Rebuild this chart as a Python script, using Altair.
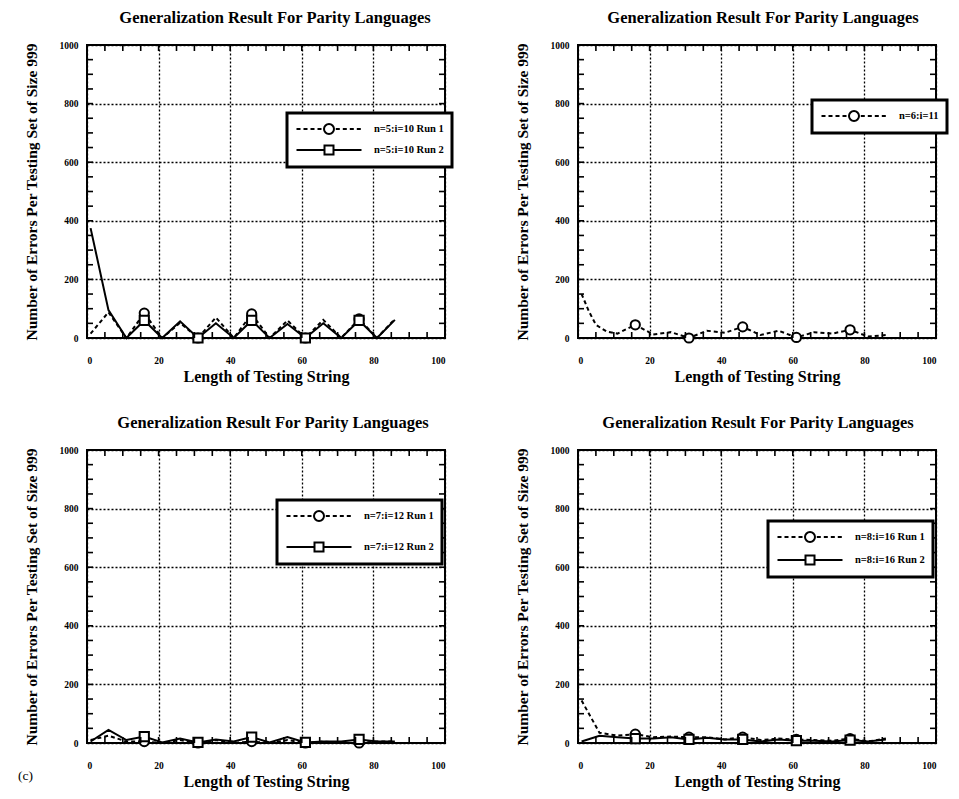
import altair as alt
import pandas as pd

FONT = "Liberation Serif"
TITLE = "Generalization Result For Parity Languages"
X_TITLE = "Length of Testing String"
Y_TITLE = "Number of Errors Per Testing Set of Size 999"

# sampled string lengths (every 5) and positions of plotted markers
X5 = [1, 6, 11, 16, 21, 26, 31, 36, 41, 46, 51, 56, 61, 66, 71, 76, 81, 86]
MARK_X = [16, 31, 46, 61, 76]

# (a) n=5
A_LABELS = ["n=5:i=10 Run 1", "n=5:i=10 Run 2"]
A_RUN1 = [15, 88, 0, 85, 0, 52, 0, 70, 0, 82, 0, 60, 0, 62, 0, 65, 0, 65]
A_RUN2 = [375, 95, 0, 60, 0, 57, 0, 50, 0, 60, 0, 48, 0, 50, 0, 60, 0, 62]

# (b) n=6
B_LABELS = ["n=6:i=11"]
B_X = [1, 3, 5, 8, 11, 16, 21, 26, 31, 36, 41, 46, 51, 56, 61, 66, 71, 76, 81, 86]
B_RUN1 = [150, 92, 45, 22, 15, 45, 12, 20, 0, 25, 18, 38, 10, 25, 2, 20, 15, 28, 5, 10]

# (c) n=7
C_LABELS = ["n=7:i=12 Run 1", "n=7:i=12 Run 2"]
C_RUN1 = [10, 25, 5, 5, 0, 10, 0, 10, 0, 5, 0, 10, 0, 5, 0, 0, 5, 5]
C_RUN2 = [5, 45, 10, 22, 2, 15, 2, 12, 5, 20, 2, 20, 2, 5, 5, 12, 5, 5]

# (d) n=8
D_LABELS = ["n=8:i=16 Run 1", "n=8:i=16 Run 2"]
D_RUN1 = [145, 35, 25, 30, 20, 22, 20, 20, 12, 20, 10, 15, 12, 10, 8, 15, 5, 15]
D_RUN2 = [5, 25, 20, 15, 15, 20, 12, 18, 12, 12, 5, 12, 8, 8, 5, 10, 5, 12]

# axis ticks
X_TICKS = [0, 20, 40, 60, 80, 100]
Y_TICKS = [0, 200, 400, 600, 800, 1000]
X_MINOR = list(range(5, 100, 5))
Y_MINOR = list(range(50, 1000, 50))

SYM_SIZE = 196  # legend symbol size -> 14 px unit box


def legend_paths(u=7.0, half=32.5, r=5.0, dash=4.0, gap=3.0):
    H, R, D, G = half / u, r / u, dash / u, gap / u

    def f(v):
        return f"{v:.3f}"

    segs = []
    x = -H
    while x + D <= -R - G * 0.4:
        segs.append(f"M{f(x)},0L{f(x + D)},0")
        x += D + G
    x = R + G * 0.6
    while x + D <= H + 1e-9:
        segs.append(f"M{f(x)},0L{f(x + D)},0")
        x += D + G
    circle = (f"M{f(-R)},0A{f(R)},{f(R)} 0 1,0 {f(R)},0"
              f"A{f(R)},{f(R)} 0 1,0 {f(-R)},0Z")
    dashed_circle = "".join(segs) + circle
    S = R * 0.9
    solid_square = (f"M{f(-H)},0L{f(-S)},0M{f(S)},0L{f(H)},0"
                    f"M{f(-S)},{f(-S)}L{f(S)},{f(-S)}L{f(S)},{f(S)}L{f(-S)},{f(S)}Z")
    return dashed_circle, solid_square


PATH_RUN1, PATH_RUN2 = legend_paths()


def panel(series, leg_x, leg_y, row_pad, title_dx):
    rows = []
    for lab, xs, ys, dashed, marker in series:
        for xv, yv in zip(xs, ys):
            rows.append({"x": xv, "y": yv, "s": lab})
    df = pd.DataFrame(rows)

    xsc = alt.Scale(domain=[0, 100], nice=False, zero=False)
    ysc = alt.Scale(domain=[0, 1000], nice=False, zero=False)
    xax = alt.Axis(values=X_TICKS, title=X_TITLE, labelPadding=17, titlePadding=4,
                   titleFontSize=16, grid=True, format="d")
    yax = alt.Axis(values=Y_TICKS, title=Y_TITLE, labelPadding=9, titlePadding=20,
                   titleFontSize=15.5, grid=True, format="d")

    X = alt.X("x:Q", scale=xsc, axis=xax)
    Y = alt.Y("y:Q", scale=ysc, axis=yax)

    base = alt.Chart(df)
    layers = []
    for lab, xs, ys, dashed, marker in series:
        kw = dict(color="black", strokeWidth=2)
        if dashed:
            kw["strokeDash"] = [4, 3]
        layers.append(base.transform_filter(alt.datum.s == lab)
                      .mark_line(**kw).encode(x=X, y=Y))
    for lab, xs, ys, dashed, marker in series:
        layers.append(base.transform_filter(alt.datum.s == lab)
                      .transform_filter(alt.FieldOneOfPredicate(field="x", oneOf=MARK_X))
                      .mark_point(shape=marker, filled=True, fill="white", stroke="black",
                                  strokeWidth=2, size=85, opacity=1)
                      .encode(x=X, y=Y))

    # inward minor ticks on all four sides of the frame
    n_x, n_y = len(X_MINOR), len(Y_MINOR)
    bottom = pd.DataFrame({"x": X_MINOR, "y": [0] * n_x})
    top = pd.DataFrame({"x": X_MINOR, "y": [1000] * n_x})
    left = pd.DataFrame({"x": [0] * n_y, "y": Y_MINOR})
    right = pd.DataFrame({"x": [100] * n_y, "y": Y_MINOR})
    tk = dict(color="black", strokeWidth=1.6)
    layers.append(alt.Chart(bottom).mark_rule(y2Offset=-6, **tk)
                  .encode(x=X, y=Y, y2="y:Q"))
    layers.append(alt.Chart(top).mark_rule(y2Offset=6, **tk)
                  .encode(x=X, y=Y, y2="y:Q"))
    layers.append(alt.Chart(left).mark_rule(x2Offset=6, **tk)
                  .encode(x=X, x2="x:Q", y=Y))
    layers.append(alt.Chart(right).mark_rule(x2Offset=-6, **tk)
                  .encode(x=X, x2="x:Q", y=Y))

    # legend
    labels = [s[0] for s in series]
    paths = [PATH_RUN1 if s[3] else PATH_RUN2 for s in series]
    leg = alt.Legend(orient="none", legendX=leg_x, legendY=leg_y, title=None,
                     fillColor="white", strokeColor="black", padding=8,
                     symbolSize=SYM_SIZE, symbolOffset=26, labelOffset=37,
                     symbolStrokeWidth=2, symbolStrokeColor="black",
                     symbolFillColor="white", symbolOpacity=1,
                     labelFont=FONT, labelFontSize=10.5, labelFontWeight="bold",
                     labelColor="black", rowPadding=row_pad)
    layers.append(base.transform_filter("false")
                  .mark_point(filled=False, color="black", strokeWidth=2, size=SYM_SIZE)
                  .encode(x=X, y=Y,
                          shape=alt.Shape("s:N", scale=alt.Scale(domain=labels, range=paths),
                                          legend=leg)))

    return alt.layer(*layers).properties(
        width=358, height=293,
        title=alt.TitleParams(TITLE, anchor="middle", frame="group", dx=title_dx, offset=14),
    )


pA = panel([(A_LABELS[0], X5, A_RUN1, True, "circle"),
            (A_LABELS[1], X5, A_RUN2, False, "square")],
           200, 68, 3, 9)
pB = panel([(B_LABELS[0], B_X, B_RUN1, True, "circle")],
           234, 55, 3, 6)
pC = panel([(C_LABELS[0], X5, C_RUN1, True, "circle"),
            (C_LABELS[1], X5, C_RUN2, False, "square")],
           190, 50, 13, 7)
pD = panel([(D_LABELS[0], X5, D_RUN1, True, "circle"),
            (D_LABELS[1], X5, D_RUN2, False, "square")],
           190, 71, 5, 1)

chart = alt.concat(
    pA, pB, pC, pD, columns=2, bounds="flush",
    spacing={"row": 112, "column": 133},
).resolve_scale(
    shape="independent"
).resolve_legend(
    shape="independent"
).properties(
    padding={"left": 18, "top": 8, "right": 0, "bottom": 0},
    title=alt.TitleParams("(c)", orient="bottom", anchor="start", fontSize=13.5,
                          fontWeight="normal", font=FONT, color="black", offset=-22, dx=-5),
).configure_view(
    stroke="black", strokeWidth=2
).configure_axis(
    labelFont=FONT, labelFontSize=9.5, labelFontWeight="bold", labelColor="black",
    titleFont=FONT, titleFontWeight="bold", titleColor="black",
    gridColor="black", gridDash=[2, 2], gridWidth=1.3, gridOpacity=1,
    domain=False, ticks=False, tickSize=0,
).configure_legend(
    strokeWidth=3
).configure_title(
    font=FONT, fontSize=16.5, fontWeight="bold", color="black"
)

chart.save("out.html", embed_options={"renderer": "svg", "actions": False})
